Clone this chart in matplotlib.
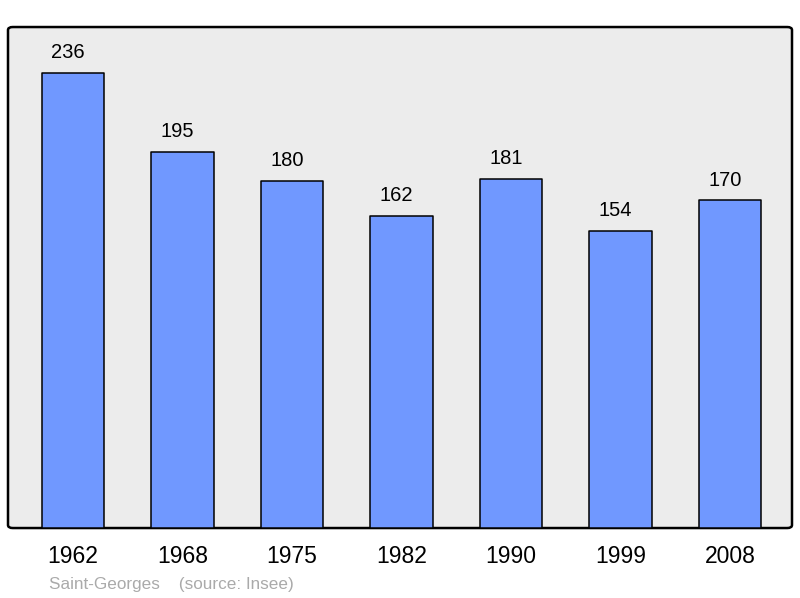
import numpy as np
import matplotlib.pyplot as plt
from matplotlib.patches import FancyBboxPatch

# =========================
# Data
# =========================

years = ["1962", "1968", "1975", "1982", "1990", "1999", "2008"]
population = [236, 195, 180, 162, 181, 154, 170]

commune = "Saint-Georges"
source = "(source: Insee)"

# =========================
# Plot
# =========================

plt.rcParams["font.family"] = ["Liberation Sans", "DejaVu Sans"]

fig = plt.figure(figsize=(8, 5.98), dpi=100)
ax = fig.add_axes([0.01, 0.117, 0.98, 0.8378])
ax.patch.set_visible(False)

frame = FancyBboxPatch(
    (0, 0), 1, 1,
    boxstyle="round,pad=0,rounding_size=0.006",
    transform=ax.transAxes,
    facecolor="#ececec",
    edgecolor="black",
    linewidth=1.8,
    zorder=0,
    clip_on=False,
)
ax.add_patch(frame)

x = np.arange(len(years))
bars = ax.bar(
    x,
    population,
    width=0.57,
    color="#7098ff",
    edgecolor="black",
    linewidth=1.1,
    joinstyle="round",
    zorder=2,
)

for xi, val in zip(x, population):
    ax.annotate(
        str(val),
        (xi, val),
        xytext=(-3.5, 14.5),
        textcoords="offset points",
        ha="center",
        va="center",
        fontsize=14.5,
    )

ax.set_xlim(-0.594, 6.566)
ax.set_ylim(0, 259.8)

for sp in ax.spines.values():
    sp.set_visible(False)

ax.set_yticks([])
ax.set_xticks(x)
ax.set_xticklabels(years, fontsize=16.5)
ax.tick_params(axis="x", length=0, pad=12)

fig.text(49 / 800, 1 - 584 / 598, commune + "    " + source,
         color="#aaaaaa", fontsize=12.3, va="center", ha="left")

fig.savefig("out.png", dpi=100)
